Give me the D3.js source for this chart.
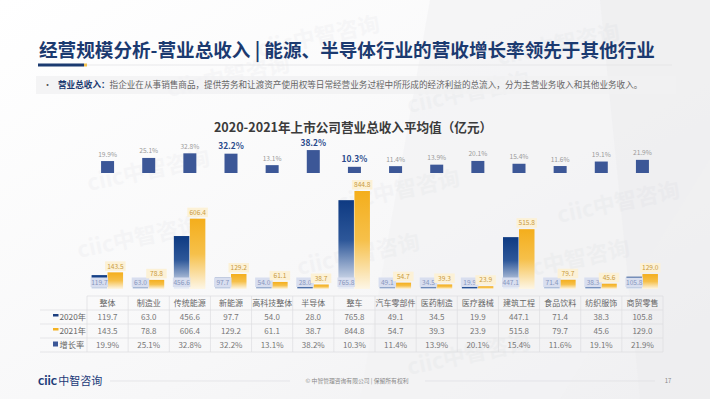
<!DOCTYPE html>
<html>
<head>
<meta charset="utf-8">
<script src="https://cdn.jsdelivr.net/npm/d3@7"></script>
<style>
  body { margin: 0; background: #fff; }
  svg { display: block; font-family: "Noto Sans CJK SC", "Noto Sans", sans-serif; }
</style>
</head>
<body>
<script>
// data
var categories = ["整体", "制造业", "传统能源", "新能源", "高科技整体", "半导体", "整车", "汽车零部件", "医药制造", "医疗器械", "建筑工程", "食品饮料", "纺织服饰", "商贸零售"];
var rev2020 = [119.7, 63.0, 456.6, 97.7, 54.0, 28.0, 765.8, 49.1, 34.5, 19.9, 447.1, 71.4, 38.3, 105.8];
var rev2021 = [143.5, 78.8, 606.4, 129.2, 61.1, 38.7, 844.8, 54.7, 39.3, 23.9, 515.8, 79.7, 45.6, 129.0];
var growth = [19.9, 25.1, 32.8, 32.2, 13.1, 38.2, 10.3, 11.4, 13.9, 20.1, 15.4, 11.6, 19.1, 21.9];
var highlighted = ["新能源", "半导体", "整车"];
var rowLabels = ["2020年", "2021年", "增长率"];

var width = 710, height = 399;
var navy = "#1c3f7f", gold = "#f4b223", growthBlue = "#3c5797";

var svg = d3.select("body").append("svg")
  .attr("width", width)
  .attr("height", height);

var defs = svg.append("defs");
var bg = defs.append("linearGradient").attr("id", "bg").attr("x1", 0).attr("y1", 0).attr("x2", 1).attr("y2", 1);
bg.append("stop").attr("offset", 0).attr("stop-color", "#ffffff");
bg.append("stop").attr("offset", 0.6).attr("stop-color", "#f7f7f8");
bg.append("stop").attr("offset", 1).attr("stop-color", "#efeff1");

var g20 = defs.append("linearGradient").attr("id", "g20").attr("x1", 0).attr("y1", 0).attr("x2", 0).attr("y2", 1);
g20.append("stop").attr("offset", 0).attr("stop-color", "#0e3a82");
g20.append("stop").attr("offset", 0.45).attr("stop-color", "#2d5799");
g20.append("stop").attr("offset", 1).attr("stop-color", "#eef1f8");
var g21 = defs.append("linearGradient").attr("id", "g21").attr("x1", 0).attr("y1", 0).attr("x2", 0).attr("y2", 1);
g21.append("stop").attr("offset", 0).attr("stop-color", "#f4ae1c");
g21.append("stop").attr("offset", 0.5).attr("stop-color", "#f6c04a");
g21.append("stop").attr("offset", 1).attr("stop-color", "#fdf6e6");

svg.append("rect").attr("width", width).attr("height", height).attr("fill", "url(#bg)");

// soft background shapes
svg.append("path").attr("d", "M430,0 L710,0 L710,160 L560,399 L360,399 Z").attr("fill", "#f2f2f4").attr("opacity", 0.7);
svg.append("path").attr("d", "M600,0 L710,0 L710,399 L640,399 Z").attr("fill", "#ececef").attr("opacity", 0.6);

// faint watermarks
var marks = [[320, 44], [560, 52], [230, 84], [470, 100], [150, 178], [400, 198], [620, 210], [140, 245], [360, 262], [570, 268], [470, 362]];
svg.append("g").selectAll("text").data(marks).enter().append("text")
  .attr("transform", function (d) { return "translate(" + d[0] + "," + d[1] + ") rotate(-12)"; })
  .attr("text-anchor", "middle")
  .attr("font-size", 22)
  .attr("font-weight", "bold")
  .attr("fill", "#9aa0ad")
  .attr("opacity", 0.055)
  .text("ciic中智咨询");

// title
svg.append("text")
  .attr("x", 39).attr("y", 57)
  .attr("font-size", 18.6).attr("font-weight", "bold").attr("fill", "#1b3a70")
  .text("经营规模分析-营业总收入 | 能源、半导体行业的营收增长率领先于其他行业");
svg.append("line").attr("x1", 84).attr("x2", 672).attr("y1", 65).attr("y2", 65).attr("stroke", "#e3e3e6").attr("stroke-width", 0.8);
svg.append("rect").attr("x", 38).attr("y", 63.5).attr("width", 46).attr("height", 3).attr("fill", "#1b3a70");
svg.append("rect").attr("x", 84).attr("y", 63.5).attr("width", 3).attr("height", 3).attr("fill", "#f2c14e");

// subtitle
svg.append("rect").attr("x", 36).attr("y", 76).attr("width", 640).attr("height", 18).attr("fill", "#f1f1f3").attr("opacity", 0.8);
svg.append("text").attr("x", 43).attr("y", 88).attr("font-size", 9).attr("fill", "#555").text("•");
var sub = svg.append("text").attr("x", 58).attr("y", 88).attr("font-size", 8.6);
sub.append("tspan").attr("font-weight", "bold").attr("fill", "#1b3a70").text("营业总收入：");
sub.append("tspan").attr("fill", "#666").text("指企业在从事销售商品，提供劳务和让渡资产使用权等日常经营业务过程中所形成的经济利益的总流入，分为主营业务收入和其他业务收入。");

// chart title
svg.append("text")
  .attr("x", 353).attr("y", 132)
  .attr("text-anchor", "middle")
  .attr("font-size", 12.6).attr("font-weight", "bold").attr("fill", "#3b3b3b")
  .text("2020-2021年上市公司营业总收入平均值（亿元）");

// scales
var x = d3.scaleBand().domain(categories).range([87, 663]).padding(0);
var yRev = d3.scaleLinear().domain([0, 1000]).range([289, 173]);
var yGr = d3.scaleLinear().domain([0, 40]).range([173, 149]);
var bw = x.bandwidth();
function cx(i) { return x(categories[i]) + bw / 2; }

// growth bars
var gGrowth = svg.append("g");
gGrowth.selectAll("rect").data(growth).enter().append("rect")
  .attr("x", function (d, i) { return cx(i) - 6.5; })
  .attr("y", function (d) { return yGr(d); })
  .attr("width", 13)
  .attr("height", function (d) { return yGr(0) - yGr(d); })
  .attr("fill", growthBlue);
gGrowth.selectAll("text").data(growth).enter().append("text")
  .attr("x", function (d, i) { return cx(i); })
  .attr("y", function (d) { return yGr(d) - 4.5; })
  .attr("text-anchor", "middle")
  .attr("font-size", function (d, i) { return highlighted.indexOf(categories[i]) >= 0 ? 8.4 : 6.6; })
  .attr("font-weight", function (d, i) { return highlighted.indexOf(categories[i]) >= 0 ? "bold" : "normal"; })
  .attr("fill", function (d, i) { return highlighted.indexOf(categories[i]) >= 0 ? "#2a4a8c" : "#9a9a9a"; })
  .text(function (d) { return d.toFixed(1) + "%"; });

// revenue bars
var gBars = svg.append("g");
gBars.selectAll("rect.b20").data(rev2020).enter().append("rect")
  .attr("class", "b20")
  .attr("x", function (d, i) { return cx(i) - 16; })
  .attr("y", function (d) { return yRev(d); })
  .attr("width", 15.5)
  .attr("height", function (d) { return yRev(0) - yRev(d); })
  .attr("fill", "url(#g20)");
gBars.selectAll("rect.b21").data(rev2021).enter().append("rect")
  .attr("class", "b21")
  .attr("x", function (d, i) { return cx(i); })
  .attr("y", function (d) { return yRev(d); })
  .attr("width", 15.5)
  .attr("height", function (d) { return yRev(0) - yRev(d); })
  .attr("fill", "url(#g21)");

// 2020 labels sit on a pale box near the baseline
gBars.selectAll("rect.l20").data(rev2020).enter().append("rect")
  .attr("class", "l20")
  .attr("x", function (d, i) { return cx(i) - 17; })
  .attr("y", 277.5)
  .attr("width", 17.5).attr("height", 9.5)
  .attr("fill", "#d8deef");
gBars.selectAll("text.l20").data(rev2020).enter().append("text")
  .attr("class", "l20")
  .attr("x", function (d, i) { return cx(i) - 8.2; })
  .attr("y", 284.8)
  .attr("text-anchor", "middle")
  .attr("font-size", 6.6).attr("fill", "#8796bd")
  .text(function (d) { return d.toFixed(1); });

// 2021 labels above bars
gBars.selectAll("rect.l21").data(rev2021).enter().append("rect")
  .attr("class", "l21")
  .attr("x", function (d, i) { return cx(i) - 2.5; })
  .attr("y", function (d) { return yRev(d) - 11; })
  .attr("width", 20.5).attr("height", 9.5)
  .attr("fill", "#fcf1d6");
gBars.selectAll("text.l21").data(rev2021).enter().append("text")
  .attr("class", "l21")
  .attr("x", function (d, i) { return cx(i) + 7.8; })
  .attr("y", function (d) { return yRev(d) - 3.8; })
  .attr("text-anchor", "middle")
  .attr("font-size", 6.6).attr("fill", "#c99a3c")
  .text(function (d) { return d.toFixed(1); });

// data table
var rowY = [296, 310, 324, 338, 352];
var table = svg.append("g");
table.append("line").attr("x1", 87).attr("x2", 663).attr("y1", rowY[0]).attr("y2", rowY[0]).attr("stroke", "#dcdcdf").attr("stroke-width", 0.7);
rowY.slice(1).forEach(function (yy) {
  table.append("line").attr("x1", 40).attr("x2", 663).attr("y1", yy).attr("y2", yy).attr("stroke", "#dcdcdf").attr("stroke-width", 0.7);
});
categories.concat([null]).forEach(function (c, i) {
  var xx = c === null ? 663 : x(c);
  table.append("line").attr("x1", xx).attr("x2", xx).attr("y1", rowY[0]).attr("y2", rowY[4]).attr("stroke", "#dcdcdf").attr("stroke-width", 0.7);
});

table.selectAll("text.head").data(categories).enter().append("text")
  .attr("class", "head")
  .attr("x", function (d, i) { return cx(i); })
  .attr("y", 306)
  .attr("text-anchor", "middle")
  .attr("font-size", 8).attr("fill", "#666")
  .text(function (d) { return d; });

var rows = [
  rev2020.map(function (d) { return d.toFixed(1); }),
  rev2021.map(function (d) { return d.toFixed(1); }),
  growth.map(function (d) { return d.toFixed(1) + "%"; })
];
rows.forEach(function (vals, r) {
  table.selectAll("text.r" + r).data(vals).enter().append("text")
    .attr("class", "r" + r)
    .attr("x", function (d, i) { return cx(i); })
    .attr("y", rowY[r + 1] + 10)
    .attr("text-anchor", "middle")
    .attr("font-size", 8).attr("fill", "#777")
    .text(function (d) { return d; });
});

// row labels with legend keys
var keyColors = [navy, gold, growthBlue];
rowLabels.forEach(function (lab, r) {
  var yc = rowY[r + 1] + 7;
  if (r < 2) {
    table.append("rect").attr("x", 53).attr("y", yc - 3).attr("width", 5.5).attr("height", 2.5).attr("fill", keyColors[r]);
  } else {
    table.append("rect").attr("x", 53).attr("y", yc - 3.5).attr("width", 5).attr("height", 5).attr("fill", keyColors[r]);
  }
  table.append("text").attr("x", 59.5).attr("y", yc + 3).attr("font-size", 8.2).attr("fill", "#666").text(lab);
});

// footer
var logo = svg.append("text").attr("x", 38).attr("y", 385).attr("font-size", 11);
logo.append("tspan").attr("font-weight", "bold").attr("fill", "#1b3a78").attr("font-family", "Lato, sans-serif").attr("font-size", 13).text("ciic");
logo.append("tspan").attr("fill", "#1b3a78").attr("dx", 1).text("中智咨询");
svg.append("line").attr("x1", 110).attr("x2", 290).attr("y1", 381).attr("y2", 381).attr("stroke", "#dedee2").attr("stroke-width", 0.7);
svg.append("line").attr("x1", 425).attr("x2", 655).attr("y1", 381).attr("y2", 381).attr("stroke", "#dedee2").attr("stroke-width", 0.7);
svg.append("text").attr("x", 357).attr("y", 383).attr("text-anchor", "middle").attr("font-size", 5.8).attr("fill", "#888")
  .text("© 中智管理咨询有限公司 | 保留所有权利");
svg.append("text").attr("x", 668).attr("y", 383).attr("text-anchor", "middle").attr("font-size", 6).attr("fill", "#888").text("17");
</script>
</body>
</html>
